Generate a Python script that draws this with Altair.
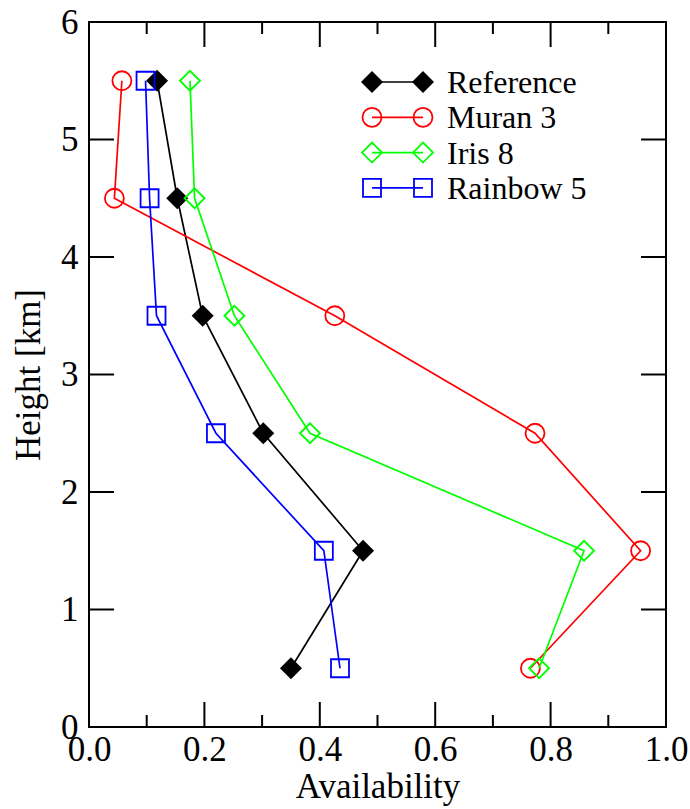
import altair as alt
import pandas as pd

# ---- data ----
heights = [0.5, 1.5, 2.5, 3.5, 4.5, 5.5]
reference = [0.350, 0.475, 0.302, 0.197, 0.153, 0.118]
muran3 = [0.765, 0.956, 0.773, 0.426, 0.044, 0.057]
iris8 = [0.780, 0.858, 0.383, 0.252, 0.183, 0.175]
rainbow5 = [0.435, 0.407, 0.220, 0.117, 0.105, 0.098]

series_names = ["Reference", "Muran 3", "Iris 8", "Rainbow 5"]
series_values = [reference, muran3, iris8, rainbow5]
colors = ["#000000", "#ff0000", "#00ff00", "#0000ff"]
shapes = ["diamond", "circle", "diamond", "square"]
filled = [True, False, False, False]
sizes = [484, 360, 400, 324]

x_major = [0.0, 0.2, 0.4, 0.6, 0.8, 1.0]
x_minor = [0.1, 0.3, 0.5, 0.7, 0.9]
y_major = [0, 1, 2, 3, 4, 5, 6]

# ---- layout ----
W, H = 577, 705
FONT = "Liberation Serif"
FS_LAB = 35
FS_TIT = 35
FS_LEG = 32
MAJ, MIN = 25, 12

xs = alt.Scale(domain=[0, 1], nice=False, zero=False)
ys = alt.Scale(domain=[0, 6], nice=False, zero=False)

x_axis = alt.Axis(values=x_major, format=".1f", ticks=False, domain=False, grid=False,
                  labelFont=FONT, labelFontSize=FS_LAB, labelColor="black", labelPadding=5,
                  labelFlush=False, title="Availability", titleFont=FONT, titleFontSize=FS_TIT,
                  titleFontWeight="normal", titleColor="black", titlePadding=2)
y_axis = alt.Axis(values=y_major, format="d", ticks=False, domain=False, grid=False,
                  labelFont=FONT, labelFontSize=FS_LAB, labelColor="black", labelPadding=11,
                  labelFlush=False, title="Height [km]", titleFont=FONT, titleFontSize=FS_TIT,
                  titleFontWeight="normal", titleColor="black", titlePadding=14)


def X(f):
    return alt.X(f, scale=xs, axis=x_axis)


def Y(f):
    return alt.Y(f, scale=ys, axis=y_axis)


layers = []

# series
for name, vals, col, shp, fl, sz in zip(series_names, series_values, colors, shapes, filled, sizes):
    df = pd.DataFrame({"h": heights, "v": vals})
    layers.append(alt.Chart(df).mark_line(color=col, strokeWidth=1.7).encode(
        x=X("v:Q"), y=Y("h:Q"), order="h:Q"))
    layers.append(alt.Chart(df).mark_point(
        shape=shp, size=sz, filled=fl, color=col, strokeWidth=1.8, opacity=1,
        fill=col if fl else "transparent").encode(x=X("v:Q"), y=Y("h:Q")))

# inward ticks on all four sides
xmaj = pd.DataFrame({"t": x_major})
xmin = pd.DataFrame({"t": x_minor})
ymaj = pd.DataFrame({"t": y_major})
tick = dict(color="black", strokeWidth=2)
for d, L in ((xmaj, MAJ), (xmin, MIN)):
    layers.append(alt.Chart(d).mark_rule(**tick).encode(
        x=X("t:Q"), y=alt.value(H), y2=alt.value(H - L)))
    layers.append(alt.Chart(d).mark_rule(**tick).encode(
        x=X("t:Q"), y=alt.value(0), y2=alt.value(L)))
layers.append(alt.Chart(ymaj).mark_rule(**tick).encode(
    y=Y("t:Q"), x=alt.value(0), x2=alt.value(MAJ)))
layers.append(alt.Chart(ymaj).mark_rule(**tick).encode(
    y=Y("t:Q"), x=alt.value(W), x2=alt.value(W - MAJ)))

# legend (inside plot)
LX0, LX1, LTX = 283, 334, 358
LY0, LDY = 60, 35.3
one = pd.DataFrame({"a": [0]})
for i, (name, col, shp, fl, sz) in enumerate(zip(series_names, colors, shapes, filled, sizes)):
    ly = LY0 + LDY * i
    layers.append(alt.Chart(one).mark_rule(color=col, strokeWidth=1.7).encode(
        x=alt.value(LX0), x2=alt.value(LX1), y=alt.value(ly)))
    for lx in (LX0, LX1):
        layers.append(alt.Chart(one).mark_point(
            shape=shp, size=sz, filled=fl, color=col, strokeWidth=1.8, opacity=1,
            fill=col if fl else "transparent").encode(x=alt.value(lx), y=alt.value(ly)))
    layers.append(alt.Chart(one).mark_text(
        text=name, font=FONT, fontSize=FS_LEG, align="left", baseline="middle", color="black").encode(
        x=alt.value(LTX), y=alt.value(ly + 1)))

chart = alt.layer(*layers).properties(
    width=W, height=H,
    autosize=alt.AutoSizeParams(type="none"),
    padding={"left": 89, "top": 22, "right": 24, "bottom": 82},
    background="white",
).configure_view(stroke="black", strokeWidth=2)

chart.save("out.html", embed_options={"renderer": "svg", "actions": False})
